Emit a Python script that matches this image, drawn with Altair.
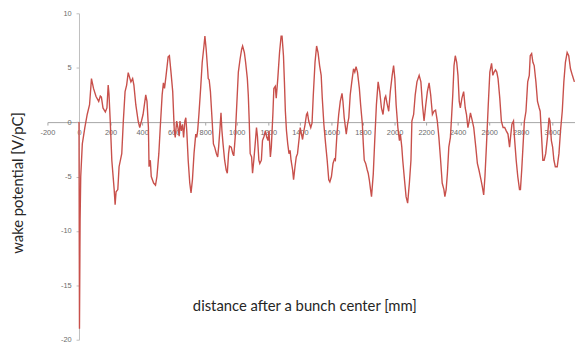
import altair as alt
import pandas as pd

# ---- data ----
distance_mm = [
    0, 3, 7, 11, 21, 37, 52, 67, 79, 92, 108, 125, 135, 142, 152, 167, 177, 185, 190, 198,
    208, 223, 229, 235, 246, 254, 271, 281, 292, 302, 312, 323, 329, 340, 348, 360, 375, 385,
    396, 406, 423, 431, 440, 444, 452, 458, 473, 485, 494, 506, 515, 527, 535, 542, 552, 565,
    573, 583, 594, 604, 610, 619, 627, 635, 640, 648, 656, 663, 671, 677, 683, 692, 702, 710,
    719, 729, 740, 746, 752, 760, 771, 781, 792, 798, 806, 815, 819, 825, 833, 844, 852, 860,
    871, 879, 885, 894, 900, 906, 913, 923, 933, 940, 948, 954, 965, 975, 981, 990, 1000,
    1010, 1021, 1031, 1037, 1048, 1056, 1067, 1073, 1079, 1085, 1094, 1100, 1108, 1115, 1125,
    1131, 1140, 1146, 1156, 1163, 1173, 1181, 1190, 1198, 1204, 1213, 1219, 1229, 1235, 1244,
    1250, 1260, 1271, 1281, 1287, 1296, 1302, 1308, 1315, 1323, 1331, 1338, 1344, 1354, 1360,
    1369, 1377, 1385, 1396, 1402, 1410, 1417, 1423, 1433, 1442, 1448, 1456, 1469, 1477, 1485,
    1496, 1506, 1515, 1525, 1535, 1542, 1552, 1563, 1573, 1583, 1590, 1600, 1610, 1619, 1625,
    1635, 1646, 1656, 1667, 1673, 1681, 1694, 1702, 1710, 1719, 1729, 1740, 1748, 1756, 1765,
    1777, 1785, 1796, 1802, 1808, 1817, 1827, 1833, 1840, 1848, 1854, 1865, 1875, 1885, 1896,
    1906, 1917, 1927, 1938, 1944, 1952, 1963, 1973, 1985, 1994, 2002, 2010, 2021, 2031, 2037,
    2046, 2052, 2063, 2073, 2083, 2094, 2104, 2110, 2121, 2131, 2142, 2156, 2167, 2177, 2187,
    2198, 2208, 2219, 2229, 2240, 2250, 2260, 2271, 2281, 2292, 2302, 2313, 2319, 2327, 2335,
    2344, 2354, 2360, 2369, 2377, 2385, 2394, 2402, 2410, 2417, 2427, 2438, 2448, 2456, 2465,
    2473, 2481, 2490, 2502, 2515, 2525, 2535, 2548, 2556, 2565, 2573, 2583, 2594, 2604, 2615,
    2623, 2631, 2640, 2648, 2656, 2667, 2677, 2688, 2698, 2708, 2719, 2729, 2735, 2744, 2754,
    2760, 2771, 2781, 2792, 2798, 2806, 2815, 2823, 2833, 2844, 2854, 2860, 2869, 2877, 2885,
    2896, 2906, 2917, 2923, 2931, 2940, 2948, 2958, 2969, 2979, 2985, 2994, 3002, 3010, 3019,
    3031, 3042, 3052, 3063, 3073, 3083, 3094, 3104, 3115, 3127, 3140,
]
wake_v_per_pc = [
    0, -19, -9, -5, -2.0, -0.5, 0.7, 1.6, 4.0, 3.1, 2.35, 1.9, 2.4, 2.3, 1.3, 0.93, 1.3, 3.4, 2.6, 0.1,
    -3.5, -6.2, -7.6, -6.4, -6.2, -4.1, -2.9, 0.1, 2.8, 3.4, 4.55, 4.0, 3.7, 4.0, 3.4, 1.6, 0.1, -0.5,
    0.1, 0.7, 2.5, 1.9, -0.5, -4.1, -3.5, -5.0, -5.6, -5.8, -5.0, -2.9, -0.5, 2.5, 3.6, 3.1, 4.3, 6.0,
    6.1, 4.6, 2.8, -0.8, -1.4, 0.1, -0.5, -1.3, 0.1, -0.8, -0.2, -1.4, 0.1, 0.4, -0.8, -3.5, -5.6, -6.5,
    -5.3, -2.9, -1.1, -1.4, -0.8, 0.7, 3.1, 5.5, 7.0, 7.9, 6.7, 4.9, 4.0, 3.9, 2.8, 0.1, -2.0, -2.3,
    -2.9, -3.2, -2.3, -0.5, 0.85, -0.8, -2.0, -3.5, -4.4, -4.7, -2.9, -2.2, -2.3, -2.9, -3.1, -1.4, 1.6,
    4.6, 5.8, 6.7, 7.0, 6.4, 5.5, 4.0, 2.5, 0.1, -2.9, -3.2, -4.7, -3.5, -2.3, -0.5,
    -1.3, -3.5, -3.8, -3.5, -1.7, -1.3, -0.8, -1.4, -1.7, -0.8, -3.2, -2.3, 0.8, 3.1, 3.3,
    2.2, 4.0, 6.4, 7.9, 7.9, 6.1, 3.7, 1.0, -0.8, -2.0, -2.9, -2.6, -3.5, -4.4, -5.3,
    -4.1, -3.2, -2.9, -1.4, -0.5, -1.1, -1.6, -1.0, -0.2, 0.7, 0.85, 0.1, -0.5, -0.1, 2.5,
    5.5, 7.0, 6.4, 5.2, 4.3, 2.2, -0.2, -2.0, -3.5, -5.3, -5.5, -5.0, -3.8, -3.4, -3.5,
    -1.1, 0.7, 1.9, 2.65, 1.9, 0.4, -1.1, -0.2, 0.4, 2.5, 3.7, 4.9, 4.6, 5.1, 4.6,
    3.1, 1.6, -0.2, -2.0, -3.5, -3.8, -4.4, -4.7, -5.3, -6.2, -6.85, -4.8, -1.5, 1.6, 3.7,
    2.8, 1.3, 0.7, 2.2, 2.4, 1.75, 1.0, 2.8, 4.3, 5.2, 4.0, 1.6, -0.5, -1.7, -1.1,
    -2.3, -3.5, -5.3, -6.85, -7.45, -5.6, -3.5, 0.1, 0.7, 2.5, 3.7, 4.3, 3.7, 1.6, 0.1,
    1.6, 2.8, 3.6, 2.5, 0.7, 1.0, 1.1, 0.1, -1.4, -3.5, -5.6, -6.2, -6.85, -6.2, -4.7,
    -2.3, -1.4, 0.1, 2.5, 5.2, 6.1, 5.5, 4.3, 1.9, 1.3, 2.2, 2.8, 1.3, 0.7, -0.5,
    0.1, 0.85, 0.3, -0.5, -2.3, -3.8, -4.4, -5.3, -5.9, -6.7, -5.0, -2.0, 1.6, 4.6, 5.4,
    4.3, 4.6, 4.8, 4.6, 4.0, 2.2, 0.1, -0.5, -0.5, -0.8, -1.1, -2.3, -1.4, -0.2, 0.1,
    -1.4, -3.5, -5.0, -6.2, -6.2, -4.4, -2.0, 0.1, 1.0, 3.7, 4.3, 6.1, 6.3, 5.5, 5.2,
    3.7, 1.9, 1.3, 1.0, -1.1, -3.5, -3.5, -2.9, -1.4, 0.4, 0.1, -1.7, -2.3, -3.5, -4.1,
    -4.1, -2.9, -0.8, 1.0, 3.7, 5.5, 6.4, 6.1, 4.9, 4.3, 3.7,
]
x_tick_values = [-200, 0, 200, 400, 600, 800, 1000, 1200, 1400, 1600, 1800, 2000,
                 2200, 2400, 2600, 2800, 3000]
y_tick_values = [-20, -15, -10, -5, 0, 5, 10]
x_title = ["distance after a bunch center [mm]"]
y_title = ["wake potential [V/pC]"]

# ---- layout ----
W, H = 535, 331
X_MIN, X_MAX = -200, 3143.75
Y_MIN, Y_MAX = -20, 10
x_axis_offset = -H * (0 - Y_MIN) / (Y_MAX - Y_MIN)   # put x axis at y = 0
y_axis_offset = -W * (0 - X_MIN) / (X_MAX - X_MIN)   # put y axis at x = 0

df = pd.DataFrame({"x": distance_mm, "y": wake_v_per_pc})

label_font = "Liberation Sans"
title_font = "Lato"

line = alt.Chart(df).mark_line(color="#C8504B", strokeWidth=1.4, clip=True).encode(
    x=alt.X(
        "x:Q",
        scale=alt.Scale(domain=[X_MIN, X_MAX], nice=False, zero=False),
        axis=alt.Axis(
            values=x_tick_values, title=None, grid=False, offset=x_axis_offset,
            labelExpr="'' + datum.value", labelOverlap=False, labelFlush=False,
            labelFont=label_font, labelFontSize=7.5, labelColor="#6b6b6b",
            domainColor="#a6a6a6", domainWidth=1, tickColor="#a6a6a6", tickSize=3,
            labelPadding=4,
        ),
    ),
    y=alt.Y(
        "y:Q",
        scale=alt.Scale(domain=[Y_MIN, Y_MAX], nice=False, zero=False),
        axis=alt.Axis(
            values=y_tick_values, title=None, grid=False, offset=y_axis_offset,
            labelExpr="'' + datum.value", labelOverlap=False, labelFlush=False,
            labelFont=label_font, labelFontSize=7.5, labelColor="#6b6b6b",
            domainColor="#bfbfbf", domainWidth=1, tickColor="#bfbfbf", tickSize=3,
            labelPadding=5,
        ),
    ),
)

xt = alt.Chart(pd.DataFrame({"t": x_title})).mark_text(
    font=title_font, fontSize=15, color="#262626", align="center", baseline="middle"
).encode(x=alt.value(261), y=alt.value(297), text="t:N")

yt = alt.Chart(pd.DataFrame({"t": y_title})).mark_text(
    font=title_font, fontSize=15, color="#262626", align="center", baseline="middle",
    angle=270,
).encode(x=alt.value(-30), y=alt.value(172), text="t:N")

chart = alt.layer(line, xt, yt).properties(
    width=W,
    height=H,
    padding={"left": 40, "top": 3, "right": 0, "bottom": 5},
    autosize=alt.AutoSizeParams(type="none"),
).configure_view(stroke=None)

chart.save("out.html", embed_options={"renderer": "svg", "actions": False})
